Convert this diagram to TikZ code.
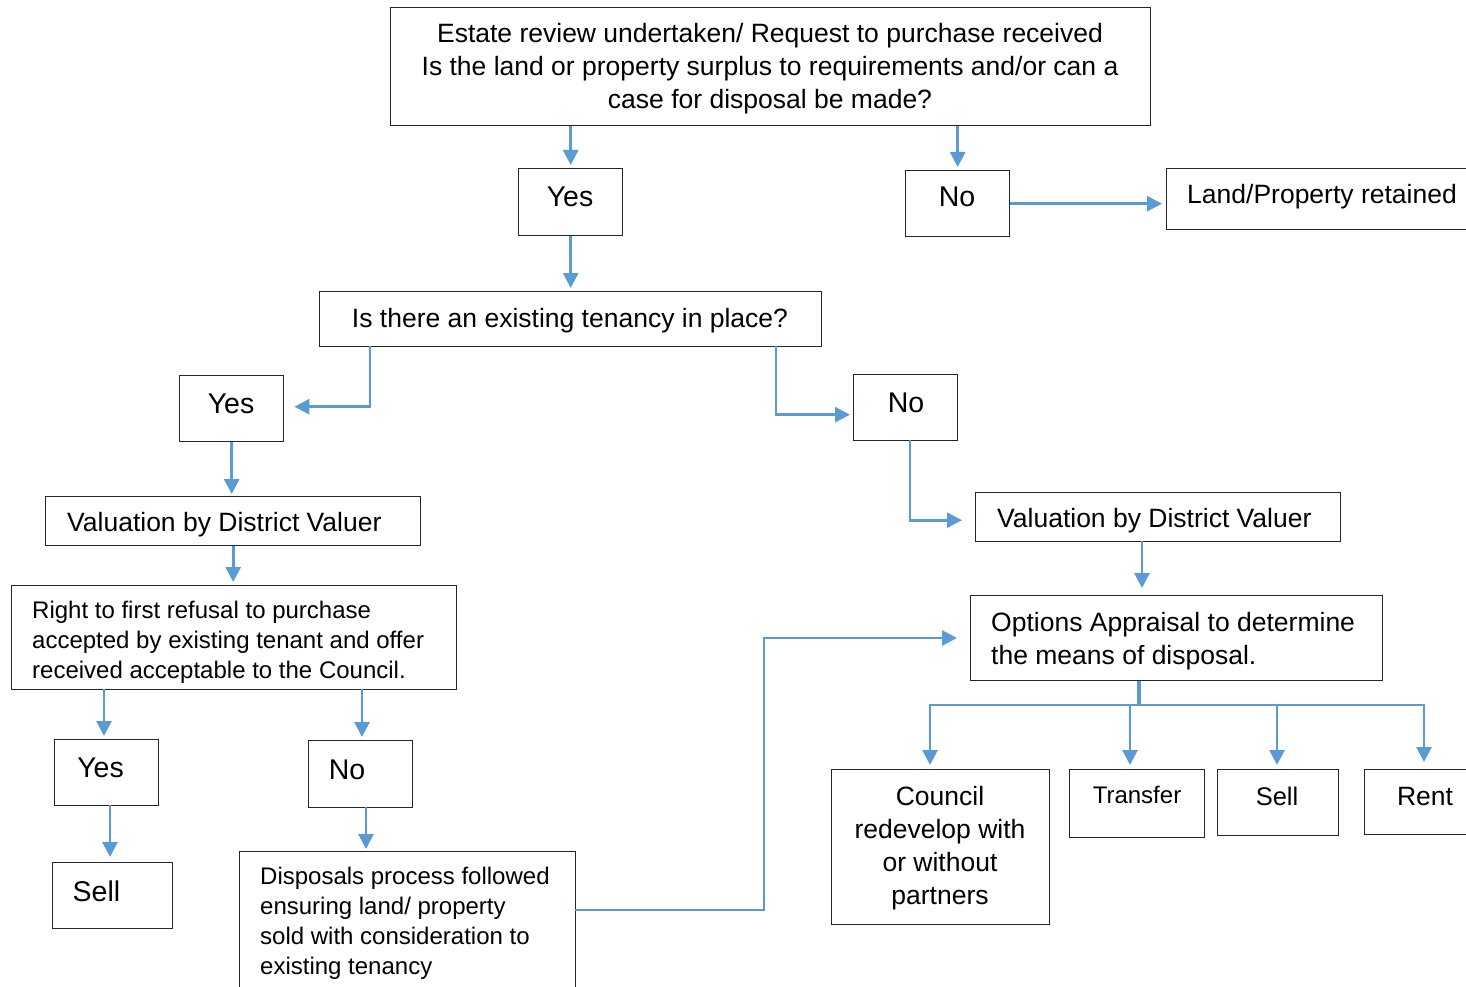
\documentclass[tikz,border=0pt]{standalone}
\usepackage{fontspec}
\setmainfont{Liberation Sans}
\usetikzlibrary{arrows.meta,calc}
\definecolor{conn}{HTML}{5B9BD5}
\definecolor{edgec}{HTML}{262626}
\tikzset{
  box/.style={draw=edgec, line width=1.4pt, fill=white, inner sep=0pt, anchor=north west},
  big/.style={font=\fontsize{28.5}{33}\selectfont, inner sep=0pt, anchor=base},
  med/.style={font=\fontsize{26.5}{33}\selectfont, inner sep=0pt, anchor=base},
  sml/.style={font=\fontsize{24}{30}\selectfont, inner sep=0pt, anchor=base},
  arr/.style={draw=conn, line width=2.8pt, -{Triangle[length=15pt,width=15pt]}},
  ln/.style={draw=conn, line width=2.8pt},
}
\begin{document}
\begin{tikzpicture}[x=1pt,y=-1pt]
\useasboundingbox[fill=white] (0,0) rectangle (1466,987);
\clip (0,0) rectangle (1466,987);
% boxes
\node[box, minimum width=760pt, minimum height=118pt] (top) at (390,7) {};
\node[box, minimum width=104pt, minimum height=67pt] (yes1) at (518,168) {};
\node[box, minimum width=104pt, minimum height=66pt] (no1) at (905,170) {};
\node[box, minimum width=320pt, minimum height=61pt] (ret) at (1166,168) {};
\node[box, minimum width=502pt, minimum height=55pt] (ten) at (319,291) {};
\node[box, minimum width=104pt, minimum height=66pt] (yes2) at (179,375) {};
\node[box, minimum width=104pt, minimum height=66pt] (no2) at (853,374) {};
\node[box, minimum width=375pt, minimum height=49pt] (vall) at (45,496) {};
\node[box, minimum width=365pt, minimum height=49pt] (valr) at (975,492) {};
\node[box, minimum width=445pt, minimum height=104pt] (right) at (11,585) {};
\node[box, minimum width=412pt, minimum height=85pt] (opt) at (970,595) {};
\node[box, minimum width=104pt, minimum height=66pt] (yes3) at (54,739) {};
\node[box, minimum width=104pt, minimum height=67pt] (no3) at (308,740) {};
\node[box, minimum width=120pt, minimum height=66pt] (sell1) at (52,862) {};
\node[box, minimum width=336pt, minimum height=160pt] (disp) at (239,851) {};
\node[box, minimum width=218pt, minimum height=155pt] (coun) at (831,769) {};
\node[box, minimum width=135pt, minimum height=68pt] (trans) at (1069,769) {};
\node[box, minimum width=121pt, minimum height=66pt] (sell2) at (1217,769) {};
\node[box, minimum width=120pt, minimum height=65pt] (rent) at (1364,769) {};
% texts
\node[med, anchor=north, align=center] (topT) at (770,23) {Estate review undertaken/ Request to purchase received\\Is the land or property surplus to requirements and/or can a\\case for disposal be made?};
\node[big] (yes1T) at (570,206) {Yes};
\node[big] (no1T) at (957,207) {No};
\node[med] (retT) at (1322,204) {Land/Property retained};
\node[med] (tenT) at (570,327) {Is there an existing tenancy in place?};
\node[big] (yes2T) at (231,413) {Yes};
\node[big] (no2T) at (906,412) {No};
\node[med, anchor=base west] (vallT) at (67,531) {Valuation by District Valuer};
\node[med, anchor=base west] (valrT) at (997,527) {Valuation by District Valuer};
\node[sml, anchor=north west, align=left] (rightT) at (32,601) {Right to first refusal to purchase\\accepted by existing tenant and offer\\received acceptable to the Council.};
\node[med, anchor=north west, align=left] (optT) at (991,612) {Options Appraisal to determine\\the means of disposal.};
\node[big] (yes3T) at (100.5,777) {Yes};
\node[big] (no3T) at (347,779) {No};
\node[big] (sell1T) at (96.5,901.5) {Sell};
\node[sml, anchor=north west, align=left] (dispT) at (260,867) {Disposals process followed\\ensuring land/ property\\sold with consideration to\\existing tenancy};
\node[med, anchor=north, align=center] (counT) at (940,786) {Council\\redevelop with\\or without\\partners};
\node[sml] (transT) at (1137,803) {Transfer};
\node[med, font=\fontsize{25.5}{33}\selectfont] (sell2T) at (1277,805) {Sell};
\node[med] (rentT) at (1425,805.5) {Rent};
% connectors
\draw[arr, shorten >=3pt] (top.south -| yes1.north) -- (yes1.north);
\draw[arr, shorten >=3pt] (top.south -| no1.north) -- (no1.north);
\draw[arr, shorten >=4pt] (no1.east) -- (no1.east -| ret.west);
\draw[arr, shorten >=3pt] (yes1.south) -- (yes1.south |- ten.north);
\coordinate (t1) at (370,346);
\draw[arr, shorten >=10pt] (t1) |- ($(yes2.east)+(0,-2)$);
\coordinate (t2) at (776,346);
\draw[arr, shorten >=3pt] (t2) |- ($(no2.west)+(0,7)$);
\draw[arr, shorten >=2pt] (yes2.south) -- (yes2.south |- vall.north);
\coordinate (n2) at (910,440);
\draw[arr, shorten >=13pt] (n2) |- ($(valr.west)+(0,3)$);
\draw[arr, shorten >=3pt] (vall.south) -- (vall.south |- right.north);
\coordinate (v2) at (1142,541);
\draw[arr, shorten >=7pt] (v2) -- (v2 |- opt.north);
\coordinate (r1) at (104,689);
\draw[arr, shorten >=3pt] (r1) -- (r1 |- yes3.north);
\coordinate (r2) at (362,689);
\draw[arr, shorten >=3pt] (r2) -- (r2 |- no3.north);
\coordinate (y3) at (110,805);
\draw[arr, shorten >=5pt] (y3) -- (y3 |- sell1.north);
\coordinate (n3) at (366,807);
\draw[arr, shorten >=2pt] (n3) -- (n3 |- disp.north);
\coordinate (d1) at (575,910);
\coordinate (d2) at (764,638);
\draw[arr, shorten >=13pt] (d1) -| (d2) -- (d2 -| opt.west);
\coordinate (bus) at (1139,705);
\coordinate (b1) at (930,705);
\coordinate (b2) at (1130,705);
\coordinate (b3) at (1277,705);
\coordinate (b4) at (1424,705);
\draw[ln, line width=4pt] (opt.south -| bus) -- (bus);
\draw[ln, line cap=rect] (b1) -- (b4);
\draw[arr, shorten >=4pt] (b1) -- (b1 |- coun.north);
\draw[arr, shorten >=4pt] (b2) -- (b2 |- trans.north);
\draw[arr, shorten >=4pt] (b3) -- (b3 |- sell2.north);
\draw[arr, shorten >=7pt] (b4) -- (b4 |- rent.north);
\end{tikzpicture}
\end{document}
